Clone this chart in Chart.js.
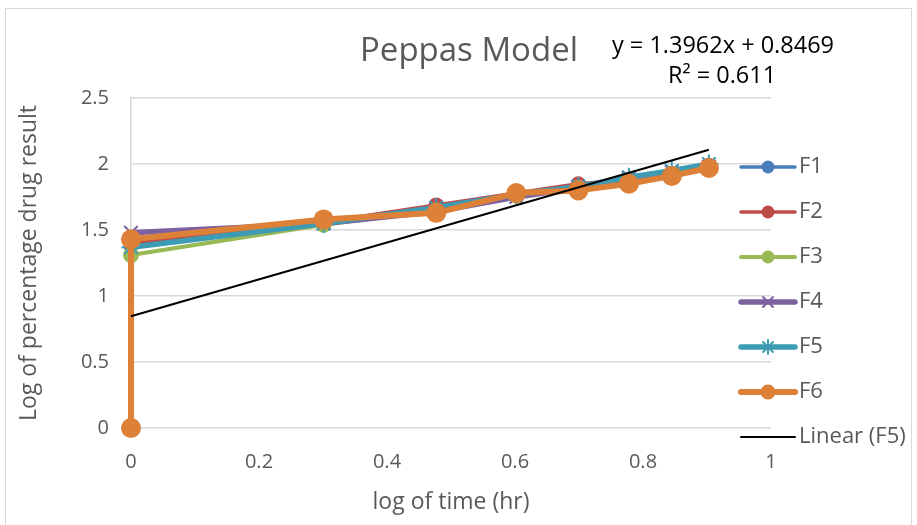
<!DOCTYPE html>
<html>
<head>
<meta charset="utf-8">
<title>Peppas Model</title>
<script src="https://cdn.jsdelivr.net/npm/chart.js@4.4.1/dist/chart.umd.min.js"></script>
<style>
    html, body { margin: 0; padding: 0; background: #fff; }
    #wrap { width: 917px; height: 525px; }
</style>
</head>
<body>
<div id="wrap"><canvas id="peppasChart" width="917" height="525"></canvas></div>
<script>
// log of time (hr) for each sample
const logTime = [0, 0, 0.301, 0.477, 0.602, 0.699, 0.778, 0.845, 0.903];

const seriesNames = ['F1', 'F2', 'F3', 'F4', 'F5', 'F6'];
const f1Values = [0, 1.38, 1.55, 1.66, 1.77, 1.83, 1.88, 1.93, 1.99];
const f2Values = [0, 1.40, 1.56, 1.69, 1.78, 1.85, 1.88, 1.92, 1.98];
const f3Values = [0, 1.31, 1.54, 1.65, 1.76, 1.82, 1.87, 1.92, 1.98];
const f4Values = [0, 1.48, 1.55, 1.64, 1.75, 1.82, 1.89, 1.94, 1.98];
const f5Values = [0, 1.37, 1.55, 1.67, 1.77, 1.83, 1.90, 1.95, 2.00];
const f6Values = [0, 1.43, 1.58, 1.63, 1.78, 1.80, 1.85, 1.91, 1.97];

const xTickValues = [0, 0.2, 0.4, 0.6, 0.8, 1];
const yTickValues = [0, 0.5, 1, 1.5, 2, 2.5];

// linear fit of F5
const trendSlope = 1.3962;
const trendIntercept = 0.8469;
const trendR2 = 0.611;

const seriesStyles = [
    { color: '#4a7ebb', width: 3.5, marker: 'circle', radius: 7.5, legendRadius: 6.5 },
    { color: '#be4b48', width: 3.5, marker: 'circle', radius: 7.5, legendRadius: 6.5 },
    { color: '#98b954', width: 4, marker: 'circle', radius: 8, legendRadius: 6.5 },
    { color: '#7d60a0', width: 5.5, marker: 'crossRot', radius: 9.5, legendRadius: 7 },
    { color: '#3d9bb4', width: 5.5, marker: 'star', radius: 9.5, legendRadius: 7 },
    { color: '#dd8038', width: 6, marker: 'circle', radius: 10, legendRadius: 7.5 }
];

const FONT = '"Open Sans", "Noto Sans", sans-serif';
const GREY_TEXT = '#595959';
const GRID = '#d9d9d9';

const allValues = [f1Values, f2Values, f3Values, f4Values, f5Values, f6Values];

const datasets = seriesNames.map((name, i) => {
    const s = seriesStyles[i];
    return {
        label: name,
        data: logTime.map((x, j) => ({ x: x, y: allValues[i][j] })),
        showLine: true,
        borderColor: s.color,
        backgroundColor: s.color,
        borderWidth: s.width,
        borderCapStyle: 'round',
        borderJoinStyle: 'round',
        pointStyle: s.marker,
        pointRadius: s.radius,
        pointBorderWidth: s.marker === 'circle' ? 0 : 2,
        pointBorderColor: s.color,
        pointBackgroundColor: s.color,
        clip: false,
        order: seriesNames.length - i
    };
});

const trendStart = Math.min(...logTime);
const trendEnd = Math.max(...logTime);
datasets.push({
    label: 'Linear (F5)',
    data: [
        { x: trendStart, y: trendSlope * trendStart + trendIntercept },
        { x: trendEnd, y: trendSlope * trendEnd + trendIntercept }
    ],
    showLine: true,
    borderColor: '#000',
    borderWidth: 2,
    pointRadius: 0,
    clip: false,
    order: 0
});

// title, trendline equation, legend and outer frame
const decorPlugin = {
    id: 'decor',
    afterDraw(chart) {
        const ctx = chart.ctx;
        ctx.save();

        ctx.strokeStyle = GRID;
        ctx.lineWidth = 1;
        ctx.strokeRect(5.5, 8.5, 906, 540);

        ctx.fillStyle = GREY_TEXT;
        ctx.textAlign = 'center';
        ctx.textBaseline = 'alphabetic';
        ctx.font = `33px ${FONT}`;
        ctx.fillText('Peppas Model', 469, 61);

        ctx.fillStyle = '#000';
        ctx.font = `23.5px ${FONT}`;
        const sign = trendIntercept >= 0 ? '+' : '-';
        ctx.fillText(`y = ${trendSlope}x ${sign} ${Math.abs(trendIntercept)}`, 723, 53);
        ctx.fillText(`R² = ${trendR2}`, 722, 83);

        // legend entries
        const lx0 = 741, lx1 = 795, mx = 768, tx = 799;
        let ly = 167;
        ctx.font = `22px ${FONT}`;
        ctx.textAlign = 'left';
        ctx.textBaseline = 'middle';
        chart.data.datasets.forEach((ds, i) => {
            ctx.strokeStyle = ds.borderColor;
            ctx.lineWidth = ds.borderWidth;
            ctx.lineCap = 'round';
            ctx.beginPath();
            ctx.moveTo(lx0, ly);
            ctx.lineTo(lx1, ly);
            ctx.stroke();
            if (ds.pointRadius > 0) {
                ctx.fillStyle = ds.pointBackgroundColor;
                ctx.strokeStyle = ds.pointBorderColor;
                ctx.lineWidth = ds.pointBorderWidth;
                Chart.helpers.drawPoint(ctx, {
                    pointStyle: ds.pointStyle,
                    radius: seriesStyles[i].legendRadius,
                    rotation: 0,
                    borderWidth: ds.pointBorderWidth
                }, mx, ly);
            }
            ctx.fillStyle = GREY_TEXT;
            ctx.fillText(ds.label, tx, ly);
            ly += 45;
        });

        ctx.restore();
    }
};

const ctx = document.getElementById('peppasChart').getContext('2d');
new Chart(ctx, {
    type: 'scatter',
    data: { datasets: datasets },
    plugins: [decorPlugin],
    options: {
        responsive: false,
        animation: false,
        layout: {
            padding: { left: 10, top: 98, right: 146, bottom: 0 }
        },
        plugins: {
            legend: { display: false },
            tooltip: { enabled: false }
        },
        scales: {
            x: {
                type: 'linear',
                min: 0,
                max: 1,
                afterBuildTicks: (scale) => {
                    scale.ticks = xTickValues.map(v => ({ value: v }));
                },
                afterFit: (scale) => { scale.height = 97; },
                grid: { display: false },
                border: { display: false },
                ticks: {
                    color: GREY_TEXT,
                    font: { family: FONT, size: 20 },
                    padding: 14,
                    maxRotation: 0,
                    callback: (v) => String(v)
                },
                title: {
                    display: true,
                    text: 'log of time (hr)',
                    color: GREY_TEXT,
                    font: { family: FONT, size: 23 },
                    padding: { top: 0, bottom: 9 }
                }
            },
            y: {
                min: 0,
                max: 2.5,
                afterBuildTicks: (scale) => {
                    scale.ticks = yTickValues.map(v => ({ value: v }));
                },
                afterFit: (scale) => { scale.width = 121; },
                grid: { color: GRID, lineWidth: 1.5, drawTicks: false },
                border: { display: true, color: GRID, width: 1.5 },
                ticks: {
                    color: GREY_TEXT,
                    font: { family: FONT, size: 20 },
                    padding: 22,
                    callback: (v) => String(v)
                },
                title: {
                    display: true,
                    text: 'Log of percentage drug result',
                    color: GREY_TEXT,
                    font: { family: FONT, size: 23 },
                    padding: { top: 6, bottom: 0 }
                }
            }
        }
    }
});
</script>
</body>
</html>
